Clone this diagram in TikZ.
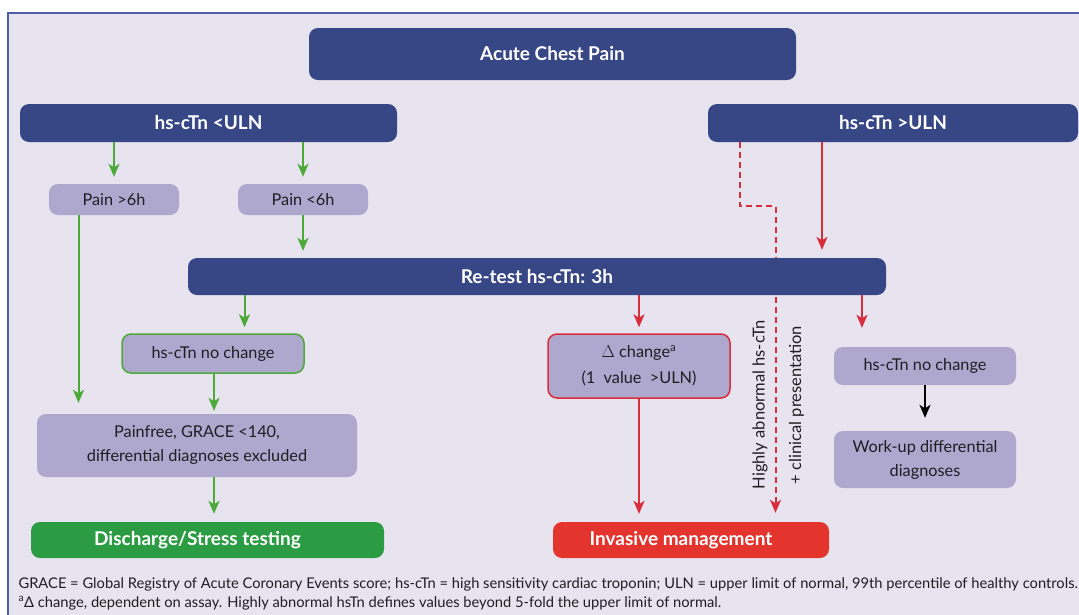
\documentclass[tikz,border=0pt]{standalone}
\usepackage{fontspec}
\setmainfont{Lato}
\usetikzlibrary{arrows.meta}
\pgfdeclarelayer{bg}\pgfdeclarelayer{mid}\pgfsetlayers{bg,mid,main}
\definecolor{navy}{RGB}{55,71,134}
\definecolor{bgl}{RGB}{231,227,239}
\definecolor{framec}{RGB}{80,92,165}
\definecolor{lav}{RGB}{174,167,206}
\definecolor{txt}{RGB}{30,30,35}
\definecolor{garr}{RGB}{77,170,58}
\definecolor{gbox}{RGB}{44,156,68}
\definecolor{rarr}{RGB}{217,45,60}
\definecolor{rbox}{RGB}{228,52,46}
\begin{document}
\begin{tikzpicture}[x=1pt,y=-1pt,
  box/.style={rounded corners=9pt, inner sep=0pt, align=center},
  navybox/.style={box, fill=navy, text=white, font=\fontsize{19}{22}\selectfont\bfseries},
  lavbox/.style={box, fill=lav, text=txt, font=\fontsize{16.3}{24}\selectfont},
  endbox/.style={box, text=white, font=\fontsize{19}{22}\selectfont\bfseries},
  tipst/.style={-{Stealth[length=13pt,width=11pt,inset=3.5pt]}},
  garrow/.style={draw=garr, line width=2pt, tipst},
  rarrow/.style={draw=rarr, line width=2pt, tipst},
  karrow/.style={draw=black, line width=2pt, tipst},
  rdash/.style={draw=rarr, line width=2pt, dash pattern=on 6pt off 4pt, tipst},
  vlabel/.style={rotate=90, text=txt, font=\fontsize{16.5}{18}\selectfont},
  note/.style={anchor=base west, text=txt, font=\fontsize{14.7}{16}\selectfont}
]
\useasboundingbox (0,0) rectangle (1079,614);
\clip (0,0) rectangle (1079,614);
\begin{pgfonlayer}{bg}
  \fill[white] (0,0) rectangle (1079,614);
  \fill[bgl] (8,13) rectangle (1090,630);
  \draw[framec, line width=1.5pt] (8,630) -- (8,13) -- (1090,13);
\end{pgfonlayer}

% nodes
\node[navybox, minimum width=487pt, minimum height=52pt] (acute) at (552.5,54) {Acute Chest Pain};
\node[navybox, minimum width=377pt, minimum height=38pt] (lt) at (208.5,123) {hs-cTn <ULN};
\node[navybox, minimum width=370pt, minimum height=38pt] (gt) at (893,123) {hs-cTn >ULN};
\node[lavbox, minimum width=130pt, minimum height=31pt] (p6a) at (114,199.5) {Pain >6h};
\node[lavbox, minimum width=130pt, minimum height=31pt] (p6b) at (303,199.5) {Pain <6h};
\node[navybox, minimum width=698pt, minimum height=37pt] (retest) at (537,276.5) {Re-test hs-cTn: 3h};
\node[lavbox, draw=garr, line width=1.5pt, minimum width=182pt, minimum height=39pt] (nc1) at (213,353.5) {hs-cTn no change};
\node[lavbox, minimum width=320pt, minimum height=63pt] (painfree) at (197,445.5) {Painfree, GRACE <140,\\differential diagnoses excluded};
\node[endbox, fill=gbox, minimum width=353pt, minimum height=36pt] (discharge) at (207.5,540) {Discharge/Stress testing\hspace{20pt}};
\node[lavbox, draw=rarr, line width=1.5pt, minimum width=182pt, minimum height=64pt, font=\fontsize{16.3}{26}\selectfont] (delta) at (639,366) {$\Delta$ change\textsuperscript{a}\\(1\ \ value\ \ >ULN)};
\node[endbox, fill=rbox, minimum width=276pt, minimum height=36pt] (invasive) at (691,540) {Invasive management\hspace{20pt}};
\node[lavbox, minimum width=182pt, minimum height=38pt] (nc2) at (925,366) {hs-cTn no change};
\node[lavbox, minimum width=182pt, minimum height=57pt] (workup) at (925,459.5) {Work-up differential\\diagnoses};

\node[vlabel] (lab1) at (760,405) {Highly abnormal hs-cTn};
\node[vlabel] (lab2) at (796.5,405) {+ clinical presentation};

\node[note] (fn1) at (15,588) {GRACE = Global Registry of Acute Coronary Events score; hs-cTn = high sensitivity cardiac troponin; ULN = upper limit of normal, 99th percentile of healthy controls.};
\node[note] (fn2) at (15,607) {\textsuperscript{a}Δ change, dependent on assay. Highly abnormal hsTn defines values beyond 5-fold the upper limit of normal.};

% column coordinates
\coordinate (cA) at (78.5,0);
\coordinate (cB) at (244.5,0);
\coordinate (cC) at (214,0);
\coordinate (cD) at (822,0);
\coordinate (cE) at (862,0);
\coordinate (dx1) at (740,0);
\coordinate (dx2) at (775.5,0);
\coordinate (dy) at (0,206);

% connectors
\draw[garrow, shorten >=7pt] (lt.south -| p6a) -- (p6a.north);
\draw[garrow, shorten >=7pt] (lt.south -| p6b) -- (p6b.north);
\draw[garrow, shorten >=11pt] (p6a.south -| cA) -- (painfree.north -| cA);
\draw[garrow, shorten >=7pt] (p6b.south) -- (retest.north -| p6b);
\draw[garrow, shorten >=6pt] (retest.south -| cB) -- (nc1.north -| cB);
\draw[garrow, shorten >=3pt] (nc1.south -| cC) -- (painfree.north -| cC);
\draw[garrow, shorten >=8pt] (painfree.south -| cC) -- (discharge.north -| cC);
\draw[rarrow, shorten >=8pt] (gt.south -| cD) -- (retest.north -| cD);
\draw[rarrow, shorten >=6pt] (retest.south -| delta) -- (delta.north);
\draw[rarrow, shorten >=8pt] (delta.south) -- (invasive.north -| delta);
\draw[rarrow, shorten >=19pt] (retest.south -| cE) -- (nc2.north -| cE);
\draw[karrow, shorten >=13pt] (nc2.south) -- (workup.north);
\begin{pgfonlayer}{mid}
\draw[rdash, shorten >=9pt] (gt.south -| dx1) -- (dx1 |- dy) -- (dx2 |- dy) -- (invasive.north -| dx2);
\end{pgfonlayer}
\end{tikzpicture}
\end{document}
